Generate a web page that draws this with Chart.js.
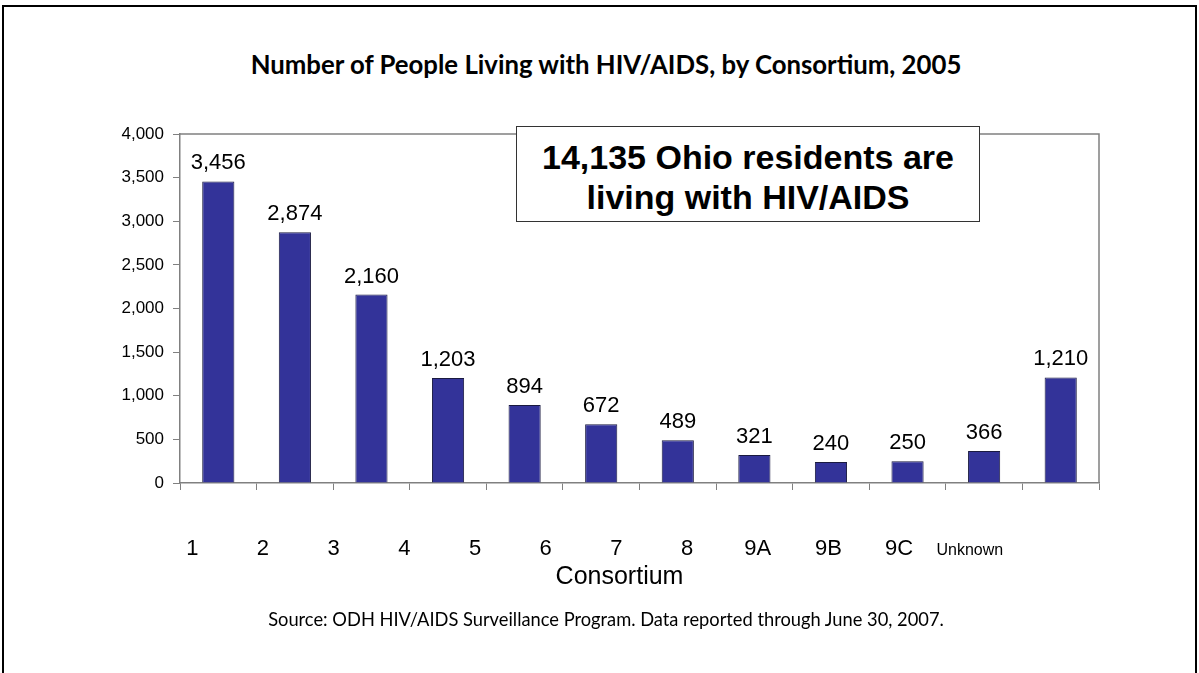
<!DOCTYPE html>
<html>
<head>
<meta charset="utf-8">
<script src="https://cdn.jsdelivr.net/npm/chart.js@4.4.0/dist/chart.umd.min.js"></script>
<style>
  body { margin: 0; background: #fff; }
  #wrap { position: relative; width: 1199px; height: 673px; overflow: hidden; }
  #frame { position: absolute; left: 2px; top: 5px; width: 1191px; height: 720px; border: 2px solid #000; }
  #chart { position: absolute; left: 0; top: 0; }
  #title { position: absolute; left: 0; width: 1199px; top: 49px; padding-left: 13px; box-sizing: border-box; text-align: center;
           font: bold 25.75px Lato, "Open Sans", sans-serif; color: #000; }
  #note { position: absolute; left: 516px; top: 126px; width: 462px; height: 94px; box-sizing: content-box;
          border: 1.5px solid #333; background: #fff; text-align: center;
          font: bold 34px "Liberation Sans", Arial, sans-serif; line-height: 40px; color: #000; }
  #note div:first-child { margin-top: 10px; }
  #source { position: absolute; left: 0; width: 1199px; top: 608px; padding-left: 13px; box-sizing: border-box; text-align: center;
            font: 18.3px Lato, "Open Sans", sans-serif; color: #000; }
</style>
</head>
<body>
<div id="wrap">
  <div id="frame"></div>
  <div id="title">Number of People Living with HIV/AIDS, by Consortium, 2005</div>
  <canvas id="chart" width="1199" height="673"></canvas>
  <div id="note"><div>14,135 Ohio residents are</div><div>living with HIV/AIDS</div></div>
  <div id="source">Source: ODH HIV/AIDS Surveillance Program. Data reported through June 30, 2007.</div>
</div>
<script>
let categories = ["1", "2", "3", "4", "5", "6", "7", "8", "9A", "9B", "9C", "Unknown"];
let people = [3456, 2874, 2160, 1203, 894, 672, 489, 321, 240, 250, 366, 1210];
let yTicks = [0, 500, 1000, 1500, 2000, 2500, 3000, 3500, 4000];

const ARIAL = '"Liberation Sans", Arial, sans-serif';

// plot frame on top/right, value labels, category labels drawn like the original text boxes
const extras = {
    id: "extras",
    beforeDatasetsDraw(chart) {
        let ctx = chart.ctx, a = chart.chartArea;
        ctx.save();
        ctx.strokeStyle = "#808080";
        ctx.lineWidth = 1.5;
        ctx.beginPath();
        ctx.moveTo(a.left, a.top);
        ctx.lineTo(a.right, a.top);
        ctx.lineTo(a.right, a.bottom);
        ctx.stroke();
        ctx.restore();
    },
    afterDatasetsDraw(chart) {
        let ctx = chart.ctx;
        let meta = chart.getDatasetMeta(0);
        ctx.save();
        ctx.fillStyle = "#000";
        ctx.textAlign = "center";
        ctx.textBaseline = "alphabetic";
        ctx.font = "22px " + ARIAL;
        meta.data.forEach((bar, i) => {
            ctx.fillText(people[i].toLocaleString("en-US"), bar.x, bar.y - 12);
        });

        let x = chart.scales.x;
        let step = x.width / categories.length;
        categories.forEach((c, i) => {
            ctx.font = (c === "Unknown" ? "16px " : "22px ") + ARIAL;
            ctx.fillText(c, x.left + (0.16 + 0.923 * i) * step, x.top + 72);
        });

        ctx.font = "25px " + ARIAL;
        ctx.fillText("Consortium", (x.left + x.right) / 2 - 20, x.top + 101);
        ctx.restore();
    }
};

new Chart(document.getElementById("chart"), {
    type: "bar",
    data: {
        labels: categories,
        datasets: [{
            data: people,
            backgroundColor: "#333399",
            borderColor: "#1a1a40",
            borderWidth: 1,
            categoryPercentage: 1,
            barPercentage: 0.42
        }]
    },
    options: {
        responsive: false,
        animation: false,
        layout: { padding: { left: 120, right: 100, top: 134, bottom: 180 } },
        plugins: { legend: { display: false }, tooltip: { enabled: false } },
        scales: {
            x: {
                ticks: { display: false },
                grid: { drawOnChartArea: false, color: "#808080", tickLength: 7, offset: true },
                border: { color: "#808080", width: 1.5 },
                afterFit: s => { s.height = 10; }
            },
            y: {
                min: yTicks[0],
                max: yTicks[yTicks.length - 1],
                afterBuildTicks: s => { s.ticks = yTicks.map(v => ({ value: v })); },
                ticks: {
                    color: "#000",
                    padding: 9,
                    font: { family: ARIAL, size: 17 },
                    callback: v => v.toLocaleString("en-US")
                },
                grid: { drawOnChartArea: false, color: "#808080", tickLength: 7 },
                border: { color: "#808080", width: 1.5 },
                afterFit: s => { s.width = 60; }
            }
        }
    },
    plugins: [extras]
});
</script>
</body>
</html>
